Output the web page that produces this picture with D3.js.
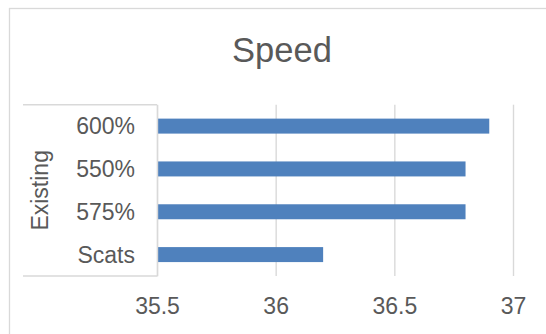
<!DOCTYPE html>
<html>
<head>
<meta charset="utf-8">
<script src="https://cdn.jsdelivr.net/npm/d3@7"></script>
<style>
  html, body { margin: 0; padding: 0; background: #fff; }
  svg { display: block; }
  text { font-family: "Liberation Sans", Arial, sans-serif; fill: #595959; }
</style>
</head>
<body>
<svg id="chart" width="546" height="334"></svg>
<script>
// Speed by scenario, grouped under "Existing"
const title = "Speed";
const group = "Existing";
const categories = ["600%", "550%", "575%", "Scats"];
const values = [36.9, 36.8, 36.8, 36.2];
const tickValues = [35.5, 36, 36.5, 37];
const domain = [35.5, 37];

const svg = d3.select("#chart");

// chart frame
svg.append("rect")
  .attr("x", 9.5).attr("y", 8.5)
  .attr("width", 560).attr("height", 360)
  .attr("fill", "#fff")
  .attr("stroke", "#d9d9d9").attr("stroke-width", 1.3);

const plot = { left: 157, right: 513, top: 104.7, bottom: 276 };

const x = d3.scaleLinear().domain(domain).range([plot.left, plot.right]);
const y = d3.scaleBand()
  .domain(categories)
  .range([plot.top, plot.bottom])
  .paddingInner(0.65)
  .paddingOuter(0.325);

// title
svg.append("text")
  .attr("x", 282).attr("y", 62)
  .attr("text-anchor", "middle")
  .style("font-size", "34.5px")
  .text(title);

// vertical gridlines and value labels
const xAxis = d3.axisBottom(x)
  .tickValues(tickValues)
  .tickSize(-(plot.bottom - plot.top))
  .tickPadding(0)
  .tickFormat(d3.format(""));

const gx = svg.append("g")
  .attr("transform", `translate(0,${plot.bottom})`)
  .call(xAxis);
gx.select(".domain").remove();
gx.selectAll(".tick line")
  .attr("stroke", "#d9d9d9").attr("stroke-width", 1.4);
gx.selectAll(".tick text")
  .attr("y", 38).attr("dy", null)
  .style("font-size", "23px")
  .attr("fill", "#595959");

// bars
svg.append("g").selectAll("rect")
  .data(categories.map((c, i) => ({ c, v: values[i] })))
  .join("rect")
  .attr("x", x(domain[0]))
  .attr("y", d => y(d.c))
  .attr("width", d => x(d.v) - x(domain[0]))
  .attr("height", y.bandwidth())
  .attr("fill", "#4f81bd");

// category axis with two label levels
const yAxis = d3.axisLeft(y).tickSize(0).tickPadding(22);
const gy = svg.append("g")
  .attr("transform", `translate(${plot.left},0)`)
  .call(yAxis);
gy.select(".domain")
  .attr("stroke", "#d9d9d9").attr("stroke-width", 1.4);
gy.selectAll(".tick text")
  .attr("dy", "0.35em")
  .style("font-size", "23px")
  .attr("fill", "#595959");

// group boundary lines spanning both label levels
const boxLeft = 23;
svg.append("g").selectAll("line")
  .data([plot.top, plot.bottom])
  .join("line")
  .attr("x1", boxLeft).attr("x2", plot.left)
  .attr("y1", d => d).attr("y2", d => d)
  .attr("stroke", "#d9d9d9").attr("stroke-width", 1.4);

// group label
svg.append("text")
  .attr("transform", `translate(48,${(plot.top + plot.bottom) / 2}) rotate(-90)`)
  .attr("text-anchor", "middle")
  .style("font-size", "23px")
  .text(group);
</script>
</body>
</html>
